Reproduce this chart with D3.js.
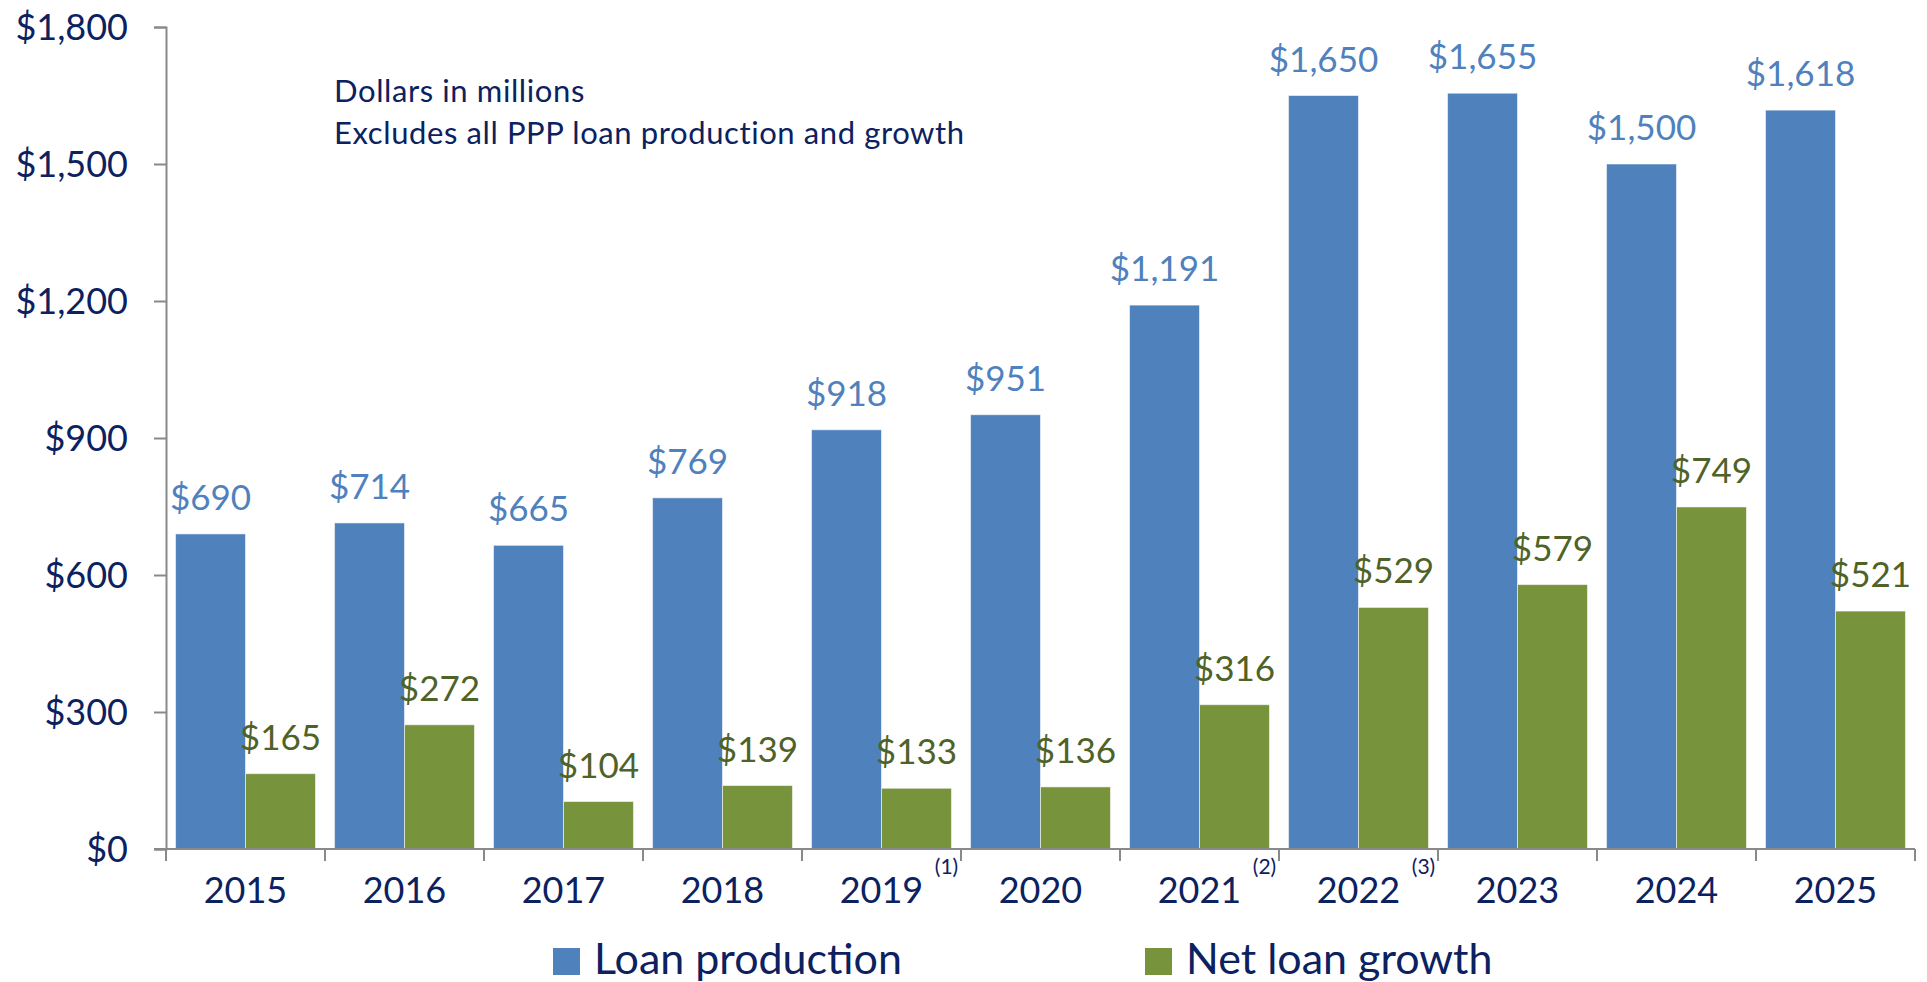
<!DOCTYPE html>
<html>
<head>
<meta charset="utf-8">
<script src="https://cdn.jsdelivr.net/npm/d3@7"></script>
<style>
  body { margin: 0; background: #fff; }
  text { font-family: Lato, "Noto Sans", sans-serif; }
</style>
</head>
<body>
<div id="chart"></div>
<script>
// données
const years = ["2015", "2016", "2017", "2018", "2019", "2020", "2021", "2022", "2023", "2024", "2025"];
const loanProduction = [690, 714, 665, 769, 918, 951, 1191, 1650, 1655, 1500, 1618];
const netLoanGrowth = [165, 272, 104, 139, 133, 136, 316, 529, 579, 749, 521];
const footnotes = ["", "", "", "", "(1)", "", "(2)", "(3)", "", "", ""];
const seriesNames = ["Loan production", "Net loan growth"];
const yTicks = [0, 300, 600, 900, 1200, 1500, 1800];
const notes = ["Dollars in millions", "Excludes all PPP loan production and growth"];

const barColors = ["#4F81BD", "#77933C"];
const labelColors = ["#4F81BD", "#4F6228"];
const navy = "#0B2160";
const axisGrey = "#898989";

// dimensions
const margin = { top: 27, right: 12, bottom: 133, left: 166 },
    width = 1927 - margin.left - margin.right,
    height = 982 - margin.top - margin.bottom;

const svg = d3.select("#chart")
    .append("svg")
    .attr("width", 1927)
    .attr("height", 982)
    .append("g")
    .attr("transform", `translate(${margin.left}, ${margin.top})`);

const rows = years.map((y, i) => ({ year: y, values: [loanProduction[i], netLoanGrowth[i]], note: footnotes[i] }));

// échelles
const x0 = d3.scaleBand()
    .domain(years)
    .range([0, width])
    .paddingInner(0.12)
    .paddingOuter(0.06);

const x1 = d3.scaleBand()
    .domain([0, 1])
    .range([0, x0.bandwidth()]);

const y = d3.scaleLinear()
    .domain([0, 1800])
    .range([height, 0]);

// barres
const groups = svg.append("g")
    .selectAll("g")
    .data(rows)
    .join("g")
    .attr("transform", d => `translate(${x0(d.year)}, 0)`);

groups.selectAll("rect")
    .data(d => d.values.map((v, k) => ({ k: k, v: v })))
    .join("rect")
    .attr("x", d => x1(d.k))
    .attr("y", d => y(d.v))
    .attr("width", x1.bandwidth())
    .attr("height", d => height - y(d.v))
    .attr("fill", d => barColors[d.k])
    .attr("stroke", "rgba(255,255,255,0.55)")
    .attr("stroke-width", 1);

// étiquettes de valeurs
groups.selectAll("text.val")
    .data(d => d.values.map((v, k) => ({ k: k, v: v })))
    .join("text")
    .attr("class", "val")
    .attr("x", d => x1(d.k) + x1.bandwidth() / 2)
    .attr("y", d => y(d.v) - 24)
    .attr("text-anchor", "middle")
    .style("font-size", "35px")
    .style("fill", d => labelColors[d.k])
    .text(d => "$" + d3.format(",")(d.v));

/*** Axe Y ***/
const yAxis = svg.append("g")
    .call(d3.axisLeft(y)
        .tickValues(yTicks)
        .tickSize(12)
        .tickPadding(26)
        .tickFormat(d => "$" + d3.format(",")(d)));
yAxis.select(".domain").attr("stroke", axisGrey).attr("stroke-width", 2);
yAxis.selectAll(".tick line").attr("stroke", axisGrey).attr("stroke-width", 2);
yAxis.selectAll(".tick text")
    .style("font-size", "36px")
    .style("fill", navy)
    .attr("dy", "0.36em");

/*** Axe X ***/
const xAxis = svg.append("g")
    .attr("transform", `translate(0, ${height})`)
    .call(d3.axisBottom(x0).tickSize(0).tickPadding(28));
xAxis.select(".domain").remove();
xAxis.selectAll(".tick text")
    .style("font-size", "36px")
    .style("fill", navy);

svg.append("line")
    .attr("x1", -12)
    .attr("x2", width)
    .attr("y1", height)
    .attr("y2", height)
    .attr("stroke", axisGrey)
    .attr("stroke-width", 2);

const boundaries = years.map(d => x0(d) - x0.step() * x0.paddingOuter()).concat([width]);
svg.append("g")
    .selectAll("line")
    .data(boundaries)
    .join("line")
    .attr("x1", d => d)
    .attr("x2", d => d)
    .attr("y1", height)
    .attr("y2", height + 12)
    .attr("stroke", axisGrey)
    .attr("stroke-width", 2);

// notes de bas de page
svg.append("g")
    .selectAll("text")
    .data(rows.filter(d => d.note))
    .join("text")
    .attr("x", d => x0(d.year) + x0.bandwidth() / 2 + 65)
    .attr("y", height + 25)
    .attr("text-anchor", "middle")
    .style("font-size", "21px")
    .style("fill", navy)
    .text(d => d.note);

/*** Texte d'annotation ***/
svg.append("g")
    .selectAll("text")
    .data(notes)
    .join("text")
    .attr("x", 334 - margin.left)
    .attr("y", (d, i) => 102 - margin.top + i * 42)
    .style("font-size", "31px")
    .style("letter-spacing", "0.6px")
    .style("fill", navy)
    .text(d => d);

/*** LÉGENDE ***/
const legendX = [553, 1145];
const legend = svg.append("g")
    .selectAll("g")
    .data(seriesNames)
    .join("g")
    .attr("transform", (d, i) => `translate(${legendX[i] - margin.left}, ${948 - margin.top})`);

legend.append("rect")
    .attr("width", 27)
    .attr("height", 27)
    .attr("fill", (d, i) => barColors[i]);

legend.append("text")
    .attr("x", 41)
    .attr("y", 26)
    .style("font-size", "43px")
    .style("fill", navy)
    .text(d => d);
</script>
</body>
</html>
